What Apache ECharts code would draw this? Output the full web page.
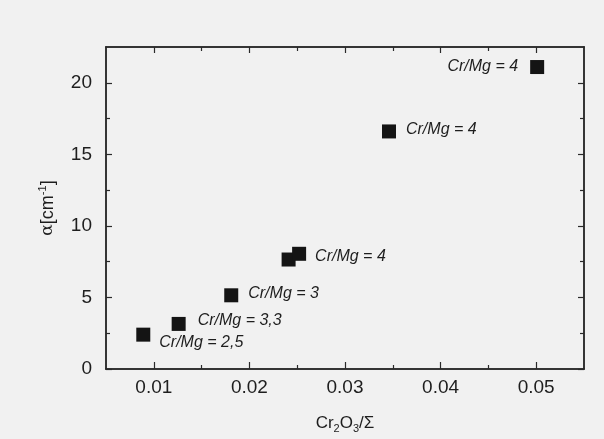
<!DOCTYPE html>
<html>
<head>
<meta charset="utf-8">
<script src="https://cdn.jsdelivr.net/npm/echarts@6/dist/echarts.min.js"></script>
<style>
  html, body { margin: 0; padding: 0; background: #f1f1f1; }
  #chart { width: 604px; height: 439px; }
</style>
</head>
<body>
<div id="chart"></div>
<script>
// Cr2O3 fraction vs absorption coefficient
const xValues = [0.0089, 0.0126, 0.0181, 0.0241, 0.0252, 0.0346, 0.0501];
const yValues = [2.4, 3.15, 5.15, 7.65, 8.05, 16.6, 21.1];
const ratioLabels = ['Cr/Mg = 2,5', 'Cr/Mg = 3,3', 'Cr/Mg = 3', '', 'Cr/Mg = 4', 'Cr/Mg = 4', 'Cr/Mg = 4'];
const xMajorTicks = [0.01, 0.02, 0.03, 0.04, 0.05];
const xMinorTicks = [0.015, 0.025, 0.035, 0.045];
const yMajorTicks = [0, 5, 10, 15, 20];
const yMinorTicks = [2.5, 7.5, 12.5, 17.5];

// where each label sits next to its marker
const labelPlace = [
    { position: 'right', distance: 9, offset: [0, 8] },
    { position: 'right', distance: 12, offset: [0, -3] },
    { position: 'right', distance: 10, offset: [0, -2] },
    { position: 'right', distance: 10, offset: [0, 0] },
    { position: 'right', distance: 9, offset: [0, 3] },
    { position: 'right', distance: 10, offset: [0, -2] },
    { position: 'left', distance: 12, offset: [0, 0] }
];

const axisColor = '#2a2a2a';
const textColor = '#1e1e1e';
const sans = 'Liberation Sans, Arial, sans-serif';

const chart = echarts.init(document.getElementById('chart'));

function xAxisDef(pos, ticks, len, withLabels) {
    return {
        type: 'value',
        position: pos,
        min: 0.005,
        max: 0.055,
        interval: 0.005,
        axisLine: { show: true, onZero: false, lineStyle: { color: axisColor, width: 1.5 } },
        axisTick: { show: true, inside: true, length: len, customValues: ticks, lineStyle: { color: axisColor, width: 1.2 } },
        axisLabel: withLabels ? {
            show: true, customValues: xMajorTicks, color: textColor, fontSize: 19,
            fontFamily: sans, margin: 9,
            formatter: v => v.toFixed(2)
        } : { show: false },
        splitLine: { show: false }
    };
}

function yAxisDef(pos, ticks, len, withLabels) {
    return {
        type: 'value',
        position: pos,
        min: 0,
        max: 22.5,
        interval: 2.5,
        axisLine: { show: true, onZero: false, lineStyle: { color: axisColor, width: 1.5 } },
        axisTick: { show: true, inside: true, length: len, customValues: ticks, lineStyle: { color: axisColor, width: 1.2 } },
        axisLabel: withLabels ? {
            show: true, customValues: yMajorTicks, color: textColor, fontSize: 19,
            fontFamily: sans, margin: 14
        } : { show: false },
        splitLine: { show: false }
    };
}

const xMain = xAxisDef('bottom', xMajorTicks, 7, true);
xMain.name = '{a|Cr}{s|2}{a|O}{s|3}{a|/Σ}';
xMain.nameLocation = 'middle';
xMain.nameGap = 43;
xMain.nameTextStyle = {
    rich: {
        a: { fontSize: 17, color: textColor, fontFamily: sans, lineHeight: 22 },
        s: { fontSize: 11, color: textColor, fontFamily: sans, lineHeight: 22, verticalAlign: 'bottom' }
    }
};

const yMain = yAxisDef('left', yMajorTicks, 6, true);
yMain.name = '{g|α}{a|[cm}{s|-1}{a|]}';
yMain.nameLocation = 'middle';
yMain.nameGap = 47;
yMain.nameTextStyle = {
    rich: {
        g: { fontSize: 17, color: textColor, fontFamily: 'DejaVu Serif, serif', lineHeight: 22 },
        a: { fontSize: 18, color: textColor, fontFamily: sans, lineHeight: 22 },
        s: { fontSize: 11, color: textColor, fontFamily: sans, lineHeight: 22, verticalAlign: 'top' }
    }
};

const option = {
    backgroundColor: '#f1f1f1',
    animation: false,
    grid: { left: 106, right: 20, top: 47, bottom: 67, containLabel: false },
    xAxis: [
        xMain,
        xAxisDef('bottom', xMinorTicks, 4, false),
        xAxisDef('top', xMajorTicks, 6, false),
        xAxisDef('top', xMinorTicks, 4, false)
    ],
    yAxis: [
        yMain,
        yAxisDef('left', yMinorTicks, 4, false),
        yAxisDef('right', yMajorTicks, 6, false),
        yAxisDef('right', yMinorTicks, 4, false)
    ],
    series: [{
        type: 'scatter',
        xAxisIndex: 0,
        yAxisIndex: 0,
        symbol: 'rect',
        symbolSize: 14,
        itemStyle: { color: '#141414', opacity: 1 },
        data: xValues.map((x, i) => ({
            value: [x, yValues[i]],
            label: Object.assign({
                show: ratioLabels[i] !== '',
                formatter: ratioLabels[i],
                fontStyle: 'italic',
                fontSize: 16,
                color: textColor,
                fontFamily: sans
            }, labelPlace[i])
        }))
    }]
};

chart.setOption(option);
</script>
</body>
</html>
